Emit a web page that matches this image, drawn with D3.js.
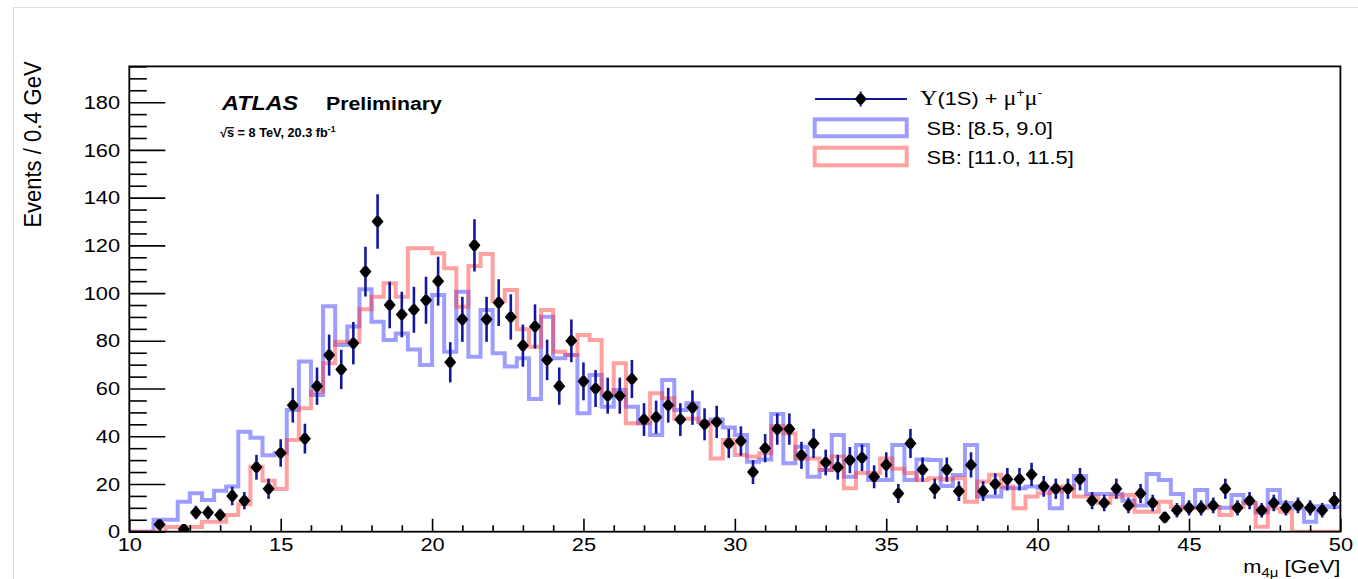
<!DOCTYPE html>
<html>
<head>
<meta charset="utf-8">
<script src="https://cdn.jsdelivr.net/npm/d3@7"></script>
<style>
  body { margin: 0; background: #fff; }
  svg { display: block; font-family: "Liberation Sans", Arial, Helvetica, sans-serif; }
</style>
</head>
<body>
<svg id="chart" width="1358" height="579"></svg>
<script>
// Binning of the four-muon invariant mass spectrum
const binLow = 10;
const binHigh = 50;
const binWidth = 0.4;

// Observed Upsilon(1S) + mu+ mu- candidates per 0.4 GeV bin
const dataCounts = [
  0, 0, 3, 0, 1, 8, 8, 7, 15, 13,
  27, 18, 33, 53, 39, 61, 74, 68, 79, 109,
  130, 95, 91, 93, 97, 105, 71, 89, 120, 89,
  96, 90, 78, 86, 72, 61, 80, 63, 60, 57,
  57, 64, 47, 48, 53, 47, 52, 45, 46, 37,
  38, 25, 35, 43, 43, 32, 37, 29, 27, 30,
  31, 23, 28, 16, 37, 26, 18, 26, 17, 28,
  17, 20, 22, 22, 24, 19, 18, 18, 22, 13,
  12, 18, 11, 16, 12, 6, 9, 10, 10, 11,
  18, 10, 13, 9, 12, 10, 11, 10, 9, 13
];

// Sideband [8.5, 9.0] GeV template, normalised
const sidebandLow = [
  0, 0, 5, 5, 12.6, 16.1, 13.3, 17.2, 18.9, 41.9,
  39.4, 32, 33, 51, 71.3, 57.3, 94.5, 78.2, 86, 101.6,
  88, 80.3, 83.1, 76.4, 69.9, 99.2, 75.4, 100.6, 73.3, 92.9,
  74.8, 69.2, 72.7, 55.6, 90.1, 72.7, 74.1, 49.6, 65.7, 52.4,
  59.4, 52.4, 45.4, 40.5, 63.6, 51, 53.8, 46.1, 47, 43.7,
  40.5, 29.3, 30.3, 49.3, 28.7, 35.6, 23, 25.9, 40.5, 23,
  36.3, 21.7, 21.7, 36.3, 21.7, 30.3, 30, 19.2, 23.8, 36.3,
  14.7, 14.7, 18.2, 18.2, 18.9, 18.2, 9.8, 18.2, 23.3, 15.8,
  15.8, 15.8, 13, 11, 24.2, 21.7, 15.8, 10.4, 17.5, 10.4,
  10, 15.4, 12, 8, 17.5, 12, 9.8, 4.2, 10.7, 10.4
];

// Sideband [11.0, 11.5] GeV template, normalised
const sidebandHigh = [
  0, 0, 0, 2, 2, 2, 4.2, 4.2, 7, 11.5,
  27.2, 21.4, 17.9, 38.4, 51.7, 58.7, 70.6, 79.6, 79.6, 93.2,
  98.5, 104.1, 98.5, 118.8, 118.8, 116.7, 110.4, 94.3, 111.4, 116.4,
  96.7, 101.3, 84.8, 77.5, 92.9, 75.4, 74.1, 82.4, 80.3, 58,
  70.6, 45.4, 45.4, 58, 55.9, 47.3, 47.3, 46, 30.7, 38.4,
  32.1, 31.5, 32.9, 44.3, 41.2, 30.7, 30.7, 25.9, 31.5, 18.2,
  24.6, 24.6, 30.7, 26.4, 24.6, 21.7, 22.4, 22, 22.4, 12.6,
  21, 23.9, 18.9, 9.8, 14.7, 16.1, 16.8, 18.9, 14.7, 14.7,
  12, 14.7, 15.4, 8.4, 8.4, 12.6, 10.4, 9.8, 9.8, 10.4,
  7, 10.4, 12, 2.1, 9.8, 8.4, 0, 0, 0, 0
];

// Axis ticks
const xMajorTicks = [10, 15, 20, 25, 30, 35, 40, 45, 50];
const xMinorTicks = [11, 12, 13, 14, 16, 17, 18, 19, 21, 22, 23, 24, 26, 27, 28, 29,
                     31, 32, 33, 34, 36, 37, 38, 39, 41, 42, 43, 44, 46, 47, 48, 49];
const yMajorTicks = [0, 20, 40, 60, 80, 100, 120, 140, 160, 180];
const yMinorTicks = [5, 10, 15, 25, 30, 35, 45, 50, 55, 65, 70, 75, 85, 90, 95,
                     105, 110, 115, 125, 130, 135, 145, 150, 155, 165, 170, 175, 185, 190, 195];
const yMax = 195;

const legendSidebands = ["SB: [8.5, 9.0]", "SB: [11.0, 11.5]"];

// ---- drawing ----
const SX = 1.15;               // horizontal stretch of the lettering
const svg = d3.select("#chart");
const plot = { left: 129.3, right: 1340.4, top: 66.4, bottom: 531.7 };

const x = d3.scaleLinear().domain([binLow, binHigh]).range([plot.left, plot.right]);
const y = d3.scaleLinear().domain([0, yMax]).range([plot.bottom, plot.top]);

const colData = "#12189c";
const colLow = "rgba(50, 50, 255, 0.48)";
const colHigh = "rgba(255, 50, 50, 0.46)";

// page border
svg.append("rect")
  .attr("x", 13.5).attr("y", 7.5).attr("width", 1400).attr("height", 700)
  .attr("fill", "none").attr("stroke", "#dcdcdc").attr("stroke-width", 1);

svg.append("clipPath").attr("id", "plotclip")
  .append("rect")
  .attr("x", plot.left).attr("y", plot.top)
  .attr("width", plot.right - plot.left).attr("height", plot.bottom - plot.top);

// sideband histograms as step outlines
const step = d3.line()
  .x(d => x(d[0]))
  .y(d => y(d[1]))
  .curve(d3.curveStepAfter);

function histPoints(values) {
  const pts = values.map((v, i) => [binLow + i * binWidth, v]);
  pts.push([binHigh, values[values.length - 1]]);
  return pts;
}

const histG = svg.append("g").attr("clip-path", "url(#plotclip)");
histG.append("path")
  .attr("d", step(histPoints(sidebandLow)))
  .attr("fill", "none").attr("stroke", colLow).attr("stroke-width", 4);
histG.append("path")
  .attr("d", step(histPoints(sidebandHigh)))
  .attr("fill", "none").attr("stroke", colHigh).attr("stroke-width", 4);

// axes
const xMinor = d3.axisBottom(x).tickValues(xMinorTicks).tickSize(-6.5).tickFormat("");
const xMajor = d3.axisBottom(x).tickValues(xMajorTicks).tickSize(-13).tickPadding(6)
  .tickFormat(d3.format("d"));
const yMinor = d3.axisLeft(y).tickValues(yMinorTicks).tickSize(-17.5).tickFormat("");
const yMajor = d3.axisLeft(y).tickValues(yMajorTicks).tickSize(-36).tickPadding(8)
  .tickFormat(d3.format("d"));

function styleAxis(g) {
  g.select(".domain").remove();
  g.selectAll(".tick line").attr("stroke", "#000").attr("stroke-width", 1.6);
  g.selectAll(".tick text").attr("fill", "#000").attr("font-size", 19)
    .attr("font-family", "'Liberation Sans', Arial, sans-serif");
}

svg.append("g").attr("transform", `translate(0,${plot.bottom})`).call(xMinor).call(styleAxis);
const gx = svg.append("g").attr("transform", `translate(0,${plot.bottom})`).call(xMajor).call(styleAxis);
gx.selectAll(".tick text").attr("transform", `scale(${SX},1)`);

svg.append("g").attr("transform", `translate(${plot.left},0)`).call(yMinor).call(styleAxis);
const gy = svg.append("g").attr("transform", `translate(${plot.left},0)`).call(yMajor).call(styleAxis);
gy.selectAll(".tick text").attr("transform", `scale(${SX},1)`);

// frame
svg.append("rect")
  .attr("x", plot.left).attr("y", plot.top)
  .attr("width", plot.right - plot.left).attr("height", plot.bottom - plot.top)
  .attr("fill", "none").attr("stroke", "#000").attr("stroke-width", 1.8);

// data points with Poisson errors
const marker = "M-6,0 L-1.6,-5.3 L1.6,-5.3 L6,0 L1.6,5.3 L-1.6,5.3 Z";
const pts = dataCounts
  .map((n, i) => ({ c: binLow + (i + 0.5) * binWidth, n }))
  .filter(d => d.n > 0);

const dataG = svg.append("g").attr("clip-path", "url(#plotclip)");
dataG.selectAll("line.err").data(pts).join("line")
  .attr("class", "err")
  .attr("x1", d => x(d.c)).attr("x2", d => x(d.c))
  .attr("y1", d => y(d.n + Math.sqrt(d.n))).attr("y2", d => y(d.n - Math.sqrt(d.n)))
  .attr("stroke", colData).attr("stroke-width", 2.6);
dataG.selectAll("path.pt").data(pts).join("path")
  .attr("class", "pt")
  .attr("transform", d => `translate(${x(d.c)},${y(d.n)})`)
  .attr("d", marker).attr("fill", "#000");

// helper for horizontally stretched text
function label(px, py, anchor, sx) {
  return svg.append("g").attr("transform", `translate(${px},${py}) scale(${sx || SX},1)`)
    .append("text").attr("text-anchor", anchor || "start").attr("fill", "#000");
}

// ATLAS label
label(222, 110, "start", 1.2).attr("font-size", 19.5).attr("font-weight", "bold")
  .attr("font-style", "italic").text("ATLAS");
label(326, 110).attr("font-size", 18.5).attr("font-weight", "bold").text("Preliminary");

// sqrt(s) line with overline on s
{
  const g = svg.append("g").attr("transform", `translate(220,137) scale(1.02,1)`);
  const t = g.append("text").attr("font-size", 12.5).attr("font-weight", "bold").attr("fill", "#000");
  t.append("tspan").text("\u221A");
  t.append("tspan").text("s = 8 TeV, 20.3 fb");
  t.append("tspan").attr("dy", -5).attr("font-size", 8.5).text("-1");
  const root = t.node().getExtentOfChar(0);
  const s = t.node().getExtentOfChar(1);
  g.append("line")
    .attr("x1", root.x + root.width - 1).attr("x2", s.x + s.width)
    .attr("y1", root.y + 1.6).attr("y2", root.y + 1.6)
    .attr("stroke", "#000").attr("stroke-width", 1.2);
}

// axis titles
{
  const g = svg.append("g").attr("transform", `translate(40.5,${plot.top - 5}) rotate(-90) scale(1,1.1)`);
  g.append("text").attr("text-anchor", "end").attr("font-size", 22).attr("fill", "#000")
    .text("Events / 0.4 GeV");
}
{
  const t = label(plot.right, 573, "end").attr("font-size", 19);
  t.append("tspan").text("m");
  t.append("tspan").attr("dy", 4).attr("font-size", 13).text("4\u03BC");
  t.append("tspan").attr("dy", -4).text(" [GeV]");
}

// legend
const lg = svg.append("g");
lg.append("line").attr("x1", 815).attr("x2", 907).attr("y1", 99).attr("y2", 99)
  .attr("stroke", colData).attr("stroke-width", 2);
lg.append("line").attr("x1", 860.7).attr("x2", 860.7).attr("y1", 91.5).attr("y2", 106.5)
  .attr("stroke", colData).attr("stroke-width", 2);
lg.append("path").attr("transform", "translate(860.7,99)").attr("d", marker).attr("fill", "#000");
lg.append("rect").attr("x", 814.7).attr("y", 119.3).attr("width", 92).attr("height", 17)
  .attr("fill", "none").attr("stroke", colLow).attr("stroke-width", 4);
lg.append("rect").attr("x", 814.7).attr("y", 147.7).attr("width", 92).attr("height", 17.6)
  .attr("fill", "none").attr("stroke", colHigh).attr("stroke-width", 4);

{
  const serif = "'Liberation Serif', 'DejaVu Serif', serif";
  const t = label(920, 105).attr("font-size", 19);
  t.append("tspan").attr("font-family", serif).attr("font-size", 21).text("\u03A5");
  t.append("tspan").text("(1S) + ");
  t.append("tspan").attr("font-family", serif).attr("font-size", 21).text("\u03BC");
  t.append("tspan").attr("dy", -8).attr("font-size", 12).text("+");
  t.append("tspan").attr("dy", 8).attr("font-family", serif).attr("font-size", 21).text("\u03BC");
  t.append("tspan").attr("dy", -8).attr("font-size", 12).text("-");
}
label(926.5, 135).attr("font-size", 19).text(legendSidebands[0]);
label(926.5, 163.5).attr("font-size", 19).text(legendSidebands[1]);
</script>
</body>
</html>
